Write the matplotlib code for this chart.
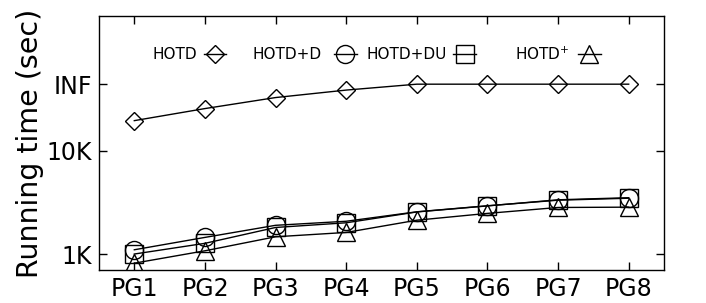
import matplotlib
matplotlib.use('Agg')
import matplotlib.pyplot as plt
import numpy as np

plt.rcParams['font.family'] = ['DejaVu Sans']

groups = ['PG1', 'PG2', 'PG3', 'PG4', 'PG5', 'PG6', 'PG7', 'PG8']
INF = 44500
hotd = [19700, 25800, 33000, 39000, INF, INF, INF, INF]
hotd_d = [1100, 1450, 1900, 2080, 2570, 2940, 3330, 3480]
hotd_du = [1000, 1270, 1810, 2010, 2560, 2930, 3360, 3520]
hotd_plus = [815, 1075, 1470, 1620, 2130, 2480, 2830, 2850]

series = [
    ('HOTD', hotd, 'D', 9.5),
    ('HOTD+D', hotd_d, 'o', 13),
    ('HOTD+DU', hotd_du, 's', 12.5),
    ('HOTD$^{+}$', hotd_plus, '^', 13.5),
]

fig = plt.figure(figsize=(7.06, 3.03), dpi=100)
ax = fig.add_axes([99 / 706, 1 - 270 / 303, (664 - 99) / 706, (270 - 16) / 303])

x = np.arange(1, len(groups) + 1)
for name, vals, m, ms in series:
    ax.plot(x, vals, color='black', lw=1, marker=m, ms=ms,
            markerfacecolor='none', markeredgecolor='black', markeredgewidth=1)

ax.set_yscale('log')
ax.set_ylim(10 ** 2.845, 10 ** 5.31)
ax.set_xlim(0.5, 8.5)
ax.set_yticks([1000, 10000, INF])
ax.set_yticklabels(['1K', '10K', 'INF'])
ax.minorticks_off()
ax.set_xticks(x)
ax.set_xticklabels(groups)
ax.tick_params(direction='in', length=6, width=1, top=True, right=True,
               labelsize=17, pad=5)
ax.set_ylabel('Running time (sec)', fontsize=20.5, labelpad=2)
for s in ax.spines.values():
    s.set_linewidth(1)

# legend drawn gnuplot style: text then sample
leg = [('HOTD', 'D', 9.5, 0.095, 0.205),
       ('HOTD+D', 'o', 13, 0.272, 0.436),
       ('HOTD+DU', 's', 12.5, 0.474, 0.647),
       ('HOTD$^{+}$', '^', 13.5, 0.736, 0.868)]
ly = 0.85
for name, m, ms, tx, mx in leg:
    ax.text(tx, ly, name, transform=ax.transAxes, fontsize=11,
            va='center', ha='left')
    ax.plot([mx - 0.02, mx + 0.02], [ly, ly], transform=ax.transAxes,
            color='black', lw=1)
    ax.plot([mx], [ly], transform=ax.transAxes, marker=m, ms=ms,
            markerfacecolor='none', markeredgecolor='black', color='black')

fig.savefig('out.png', dpi=100)
